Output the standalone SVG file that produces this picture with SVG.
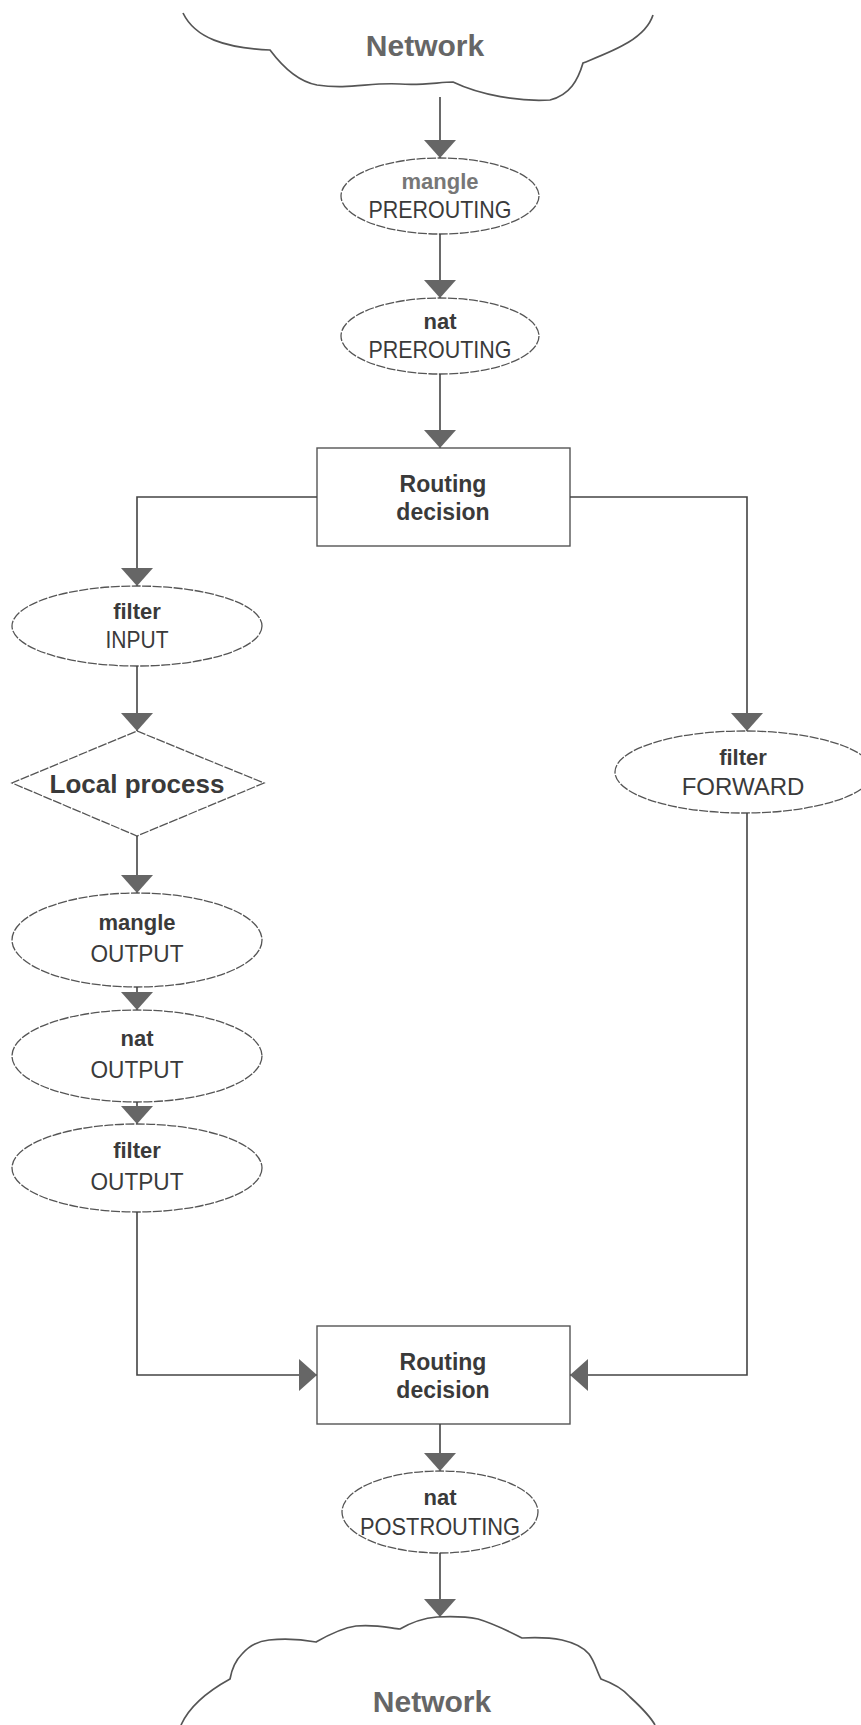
<svg xmlns="http://www.w3.org/2000/svg" width="861" height="1725" viewBox="0 0 861 1725">
  <defs>
    <marker id="arrow" markerUnits="userSpaceOnUse" markerWidth="18" markerHeight="32" refX="18" refY="16" orient="auto">
      <path d="M0,0 L18,16 L0,32 z" fill="#666"/>
    </marker>
    <style>
      .node { fill: #fff; stroke: #555; stroke-width: 1.3; stroke-dasharray: 9 1.5; }
      .box { fill: #fff; stroke: #555; stroke-width: 1.4; }
      .cloud { fill: none; stroke: #555; stroke-width: 1.7; }
      .wire { fill: none; stroke: #444; stroke-width: 1.6; marker-end: url(#arrow); }
      text { font-family: "Liberation Sans", Arial, sans-serif; text-anchor: middle; fill: #3a3a3a; }
      .t1 { font-size: 22px; font-weight: bold; }
      .t2 { font-size: 24px; }
      .rd { font-size: 23px; font-weight: bold; }
      .lp { font-size: 26px; font-weight: bold; }
      .dim { fill: #777; }
      .net { font-size: 30px; font-weight: bold; fill: #666; }
    </style>
  </defs>

  <!-- upstream network cloud -->
  <g id="net-in">
    <path class="cloud" d="M183,13 C195,38 225,48 270,50 C285,70 300,82 317,85 C350,90 370,82 400,84 C420,86 440,82 453,82 C480,95 520,102 550,100 C570,95 578,80 583,63 C610,52 645,40 653,15"/>
    <text class="net" x="425" y="56">Network</text>
  </g>

  <g id="mangle-prerouting">
    <ellipse class="node" cx="440" cy="196" rx="99" ry="38"/>
    <text class="t1 dim" x="440" y="189">mangle</text>
    <text class="t2" x="440" y="218" textLength="143" lengthAdjust="spacingAndGlyphs">PREROUTING</text>
  </g>

  <g id="nat-prerouting">
    <ellipse class="node" cx="440" cy="336" rx="99" ry="38"/>
    <text class="t1" x="440" y="329">nat</text>
    <text class="t2" x="440" y="358" textLength="143" lengthAdjust="spacingAndGlyphs">PREROUTING</text>
  </g>

  <g id="routing-1">
    <rect class="box" x="317" y="448" width="253" height="98"/>
    <text class="rd" x="443" y="492">Routing</text>
    <text class="rd" x="443" y="520">decision</text>
  </g>

  <g id="filter-input">
    <ellipse class="node" cx="137" cy="626" rx="125" ry="40"/>
    <text class="t1" x="137" y="619">filter</text>
    <text class="t2" x="137" y="648" textLength="63" lengthAdjust="spacingAndGlyphs">INPUT</text>
  </g>

  <g id="local-process">
    <polygon class="node" points="137,731 264,783 137,836 12,783"/>
    <text class="lp" x="137" y="793">Local process</text>
  </g>

  <g id="mangle-output">
    <ellipse class="node" cx="137" cy="940" rx="125" ry="47"/>
    <text class="t1" x="137" y="930">mangle</text>
    <text class="t2" x="137" y="962" textLength="93" lengthAdjust="spacingAndGlyphs">OUTPUT</text>
  </g>

  <g id="nat-output">
    <ellipse class="node" cx="137" cy="1056" rx="125" ry="46"/>
    <text class="t1" x="137" y="1046">nat</text>
    <text class="t2" x="137" y="1078" textLength="93" lengthAdjust="spacingAndGlyphs">OUTPUT</text>
  </g>

  <g id="filter-output">
    <ellipse class="node" cx="137" cy="1168" rx="125" ry="44"/>
    <text class="t1" x="137" y="1158">filter</text>
    <text class="t2" x="137" y="1190" textLength="93" lengthAdjust="spacingAndGlyphs">OUTPUT</text>
  </g>

  <g id="filter-forward">
    <ellipse class="node" cx="744" cy="772" rx="129" ry="41"/>
    <text class="t1" x="743" y="765">filter</text>
    <text class="t2" x="743" y="795">FORWARD</text>
  </g>

  <g id="routing-2">
    <rect class="box" x="317" y="1326" width="253" height="98"/>
    <text class="rd" x="443" y="1370">Routing</text>
    <text class="rd" x="443" y="1398">decision</text>
  </g>

  <g id="nat-postrouting">
    <ellipse class="node" cx="440" cy="1512" rx="98" ry="41"/>
    <text class="t1" x="440" y="1505">nat</text>
    <text class="t2" x="440" y="1535" textLength="160" lengthAdjust="spacingAndGlyphs">POSTROUTING</text>
  </g>

  <!-- downstream network cloud -->
  <g id="net-out">
    <path class="cloud" d="M181,1725 C190,1705 210,1690 230,1679 C232,1668 236,1660 242,1654 C250,1645 258,1641 269,1640 C290,1638 305,1640 316,1642 C330,1634 342,1628 356,1626 C375,1624 390,1628 400,1629 C412,1622 425,1618 437,1617 C455,1616 468,1617 478,1619 C495,1624 510,1632 522,1638 C538,1637 552,1638 562,1640 C575,1643 584,1648 589,1654 C595,1662 597,1672 601,1679 C615,1684 624,1690 630,1697 C642,1708 650,1716 655,1725"/>
    <text class="net" x="432" y="1712">Network</text>
  </g>

  <g id="connectors">
    <path class="wire" d="M440,97 V158"/>
    <path class="wire" d="M440,234 V298"/>
    <path class="wire" d="M440,374 V448"/>
    <path class="wire" d="M317,497 H137 V586"/>
    <path class="wire" d="M570,497 H747 V731"/>
    <path class="wire" d="M137,666 V731"/>
    <path class="wire" d="M137,836 V893"/>
    <path class="wire" d="M137,987 V1010"/>
    <path class="wire" d="M137,1102 V1124"/>
    <path class="wire" d="M137,1212 V1375 H317"/>
    <path class="wire" d="M747,813 V1375 H570"/>
    <path class="wire" d="M440,1424 V1471"/>
    <path class="wire" d="M440,1553 V1617"/>
  </g>
</svg>
